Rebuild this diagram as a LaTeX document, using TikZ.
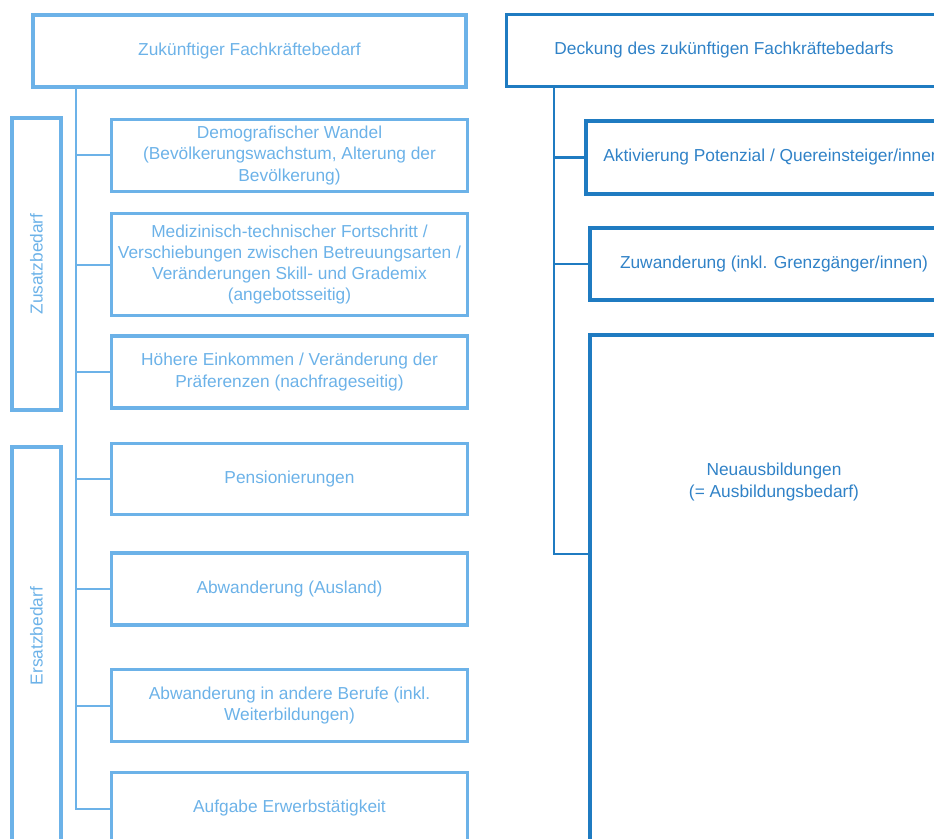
\documentclass[tikz,border=0pt]{standalone}
\usepackage{fontspec}
\setmainfont{Liberation Sans}
\usepackage{xcolor}
\usepackage{tikz}
\usetikzlibrary{calc, positioning}
\definecolor{skyblue}{RGB}{108, 178, 232}
\definecolor{oceanblue}{RGB}{31, 123, 193}
\definecolor{oceantext}{RGB}{48, 130, 199}
\tikzset{
    lbox/.style={draw=skyblue, line width=2.7pt, text=skyblue, align=center,
        inner sep=0pt, minimum width=267pt, minimum height=54pt,
        font=\fontsize{13}{15.9}\selectfont},
    rbox/.style={lbox, draw=oceanblue, text=oceantext},
    sidebox/.style={lbox, rotate=90, minimum height=36.75pt},
    sidetext/.style={text=skyblue, rotate=90, inner sep=0pt,
        font=\fontsize{13}{15.9}\selectfont},
    rtext/.style={text=oceantext, align=center, inner sep=0pt,
        font=\fontsize{13}{15.9}\selectfont},
    lline/.style={draw=skyblue, line width=1.5pt},
    rline/.style={draw=oceanblue, line width=1.5pt}
}

\begin{document}
\begin{tikzpicture}[x=0.75pt, y=-0.75pt]
    \useasboundingbox (0,0) rectangle (934,838);
    \clip (0,0) rectangle (934,838);
    % left column: future demand
    \node[lbox, minimum width=324.75pt] (bedarf) at (249.5,51) {Zukünftiger Fachkräftebedarf};
    \node[lbox] (demo) at (289.5,155.5)
        {Demografischer Wandel\\(Bevölkerungswachstum, Alterung der\\Bevölkerung)};
    \node[lbox, minimum height=76.5pt] (medtech) at (289.5,264.5)
        {Medizinisch-technischer Fortschritt /\\Verschiebungen zwischen Betreuungsarten /\\Veränderungen Skill- und Grademix\\(angebotsseitig)};
    \node[lbox] (einkommen) at (289.5,372)
        {Höhere Einkommen / Veränderung der\\Präferenzen (nachfrageseitig)};
    \node[lbox, minimum height=53.25pt] (pension) at (289.5,479) {Pensionierungen};
    \node[lbox] (abwausland) at (289.5,589) {Abwanderung (Ausland)};
    \node[lbox] (abwberufe) at (289.5,705.5)
        {Abwanderung in andere Berufe (inkl.\\Weiterbildungen)};
    \node[lbox] (aufgabe) at (289.5,808.5) {Aufgabe Erwerbstätigkeit};
    % side brackets
    \node[sidebox, minimum width=219pt] (zusatz) at (36.5,264) {Zusatzbedarf};
    \node[sidebox, minimum width=317.25pt] (ersatz) at (36.5,658.5) {};
    \node[sidetext] (ersatztext) at (36.5,636) {Ersatzbedarf};
    \coordinate (ltrunk) at ($(bedarf.south west)+(44.5,0)$);
    \draw[lline] (ltrunk) |- (aufgabe.west);
    \foreach \n in {demo, medtech, einkommen, pension, abwausland, abwberufe} {
        \draw[lline] (ltrunk |- \n.west) -- (\n.west);
    }
    % right column: coverage
    \node[rbox, minimum width=326.25pt] (deckung) at (724,50.5)
        {Deckung des zukünftigen Fachkräftebedarfs};
    \node[rbox, minimum width=279pt, minimum height=54.75pt] (aktiv) at (772,157.5)
        {Aktivierung Potenzial / Quereinsteiger/innen};
    \node[rbox, minimum width=276pt] (zuwand) at (774,264)
        {Zuwanderung (inkl. Grenzgänger/innen)};
    \node[rbox, minimum width=276pt, minimum height=423.75pt] (neuaus) at (774,617.5) {};
    \node[rtext] (neuaustext) at (774,482) {Neuausbildungen\\(= Ausbildungsbedarf)};
    \coordinate (rtrunk) at ($(deckung.south west)+(49.5,0)$);
    \coordinate (rbranch) at ($(rtrunk)+(0,466)$);
    \draw[rline] (rtrunk) -- (rbranch) -- (rbranch -| neuaus.west);
    \foreach \n in {aktiv, zuwand} {
        \draw[rline] (rtrunk |- \n.west) -- (\n.west);
    }
\end{tikzpicture}
\end{document}
